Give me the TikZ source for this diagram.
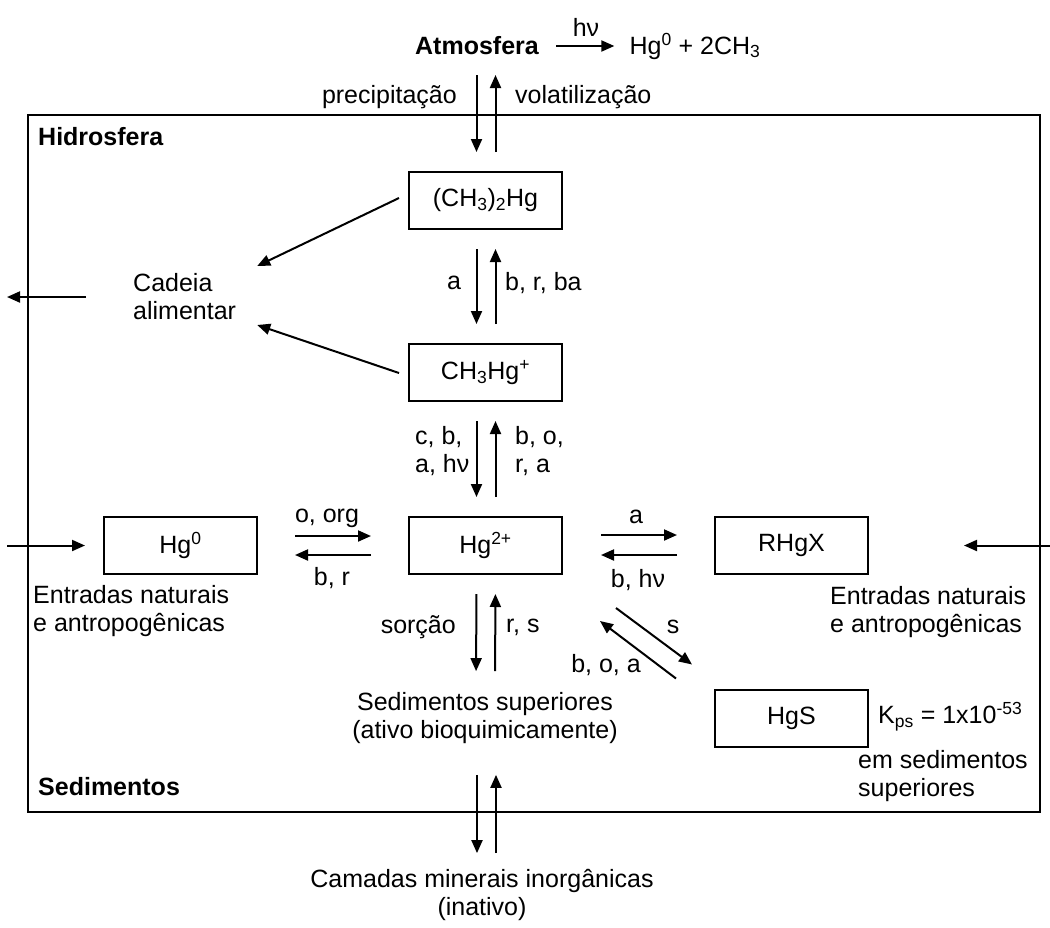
\documentclass[tikz,border=0pt]{standalone}
\usepackage{fontspec}
\setmainfont{Liberation Sans}
\usetikzlibrary{arrows.meta}

\begin{document}
\begin{tikzpicture}[x=1pt,y=-1pt]

	\tikzset{every node/.style={font=\fontsize{25}{28}\selectfont,inner sep=0pt}}
	\tikzset{species/.style={draw,line width=2pt,minimum width=153pt,minimum height=57pt}}
	\tikzset{flux/.style={line width=2pt,-{Triangle[length=13pt,width=11pt]}}}
	\tikzset{zone/.style={font=\fontsize{25}{28}\selectfont\bfseries}}

	\useasboundingbox (0,0) rectangle (1050,927);

	% compartments

	\draw[line width=2pt] (28,115) rectangle (1040,812);
	\node[zone,anchor=west] (hidro) at (38,137) {Hidrosfera};
	\node[zone,anchor=west] (sed) at (38,787) {Sedimentos};
	\node[zone] (atm) at (477,46) {Atmosfera};
	\node (prod) at (695,46) {Hg\textsuperscript{0} + 2CH\textsubscript{3}};
	\draw[flux,shorten <=17pt,shorten >=15pt] (atm.east) -- (prod.west);
	\node (hnu) at (586,27) {hν};

	% mercury species

	\node[species] (me2) at (485.5,200.5) {(CH\textsubscript{3})\textsubscript{2}Hg};
	\node[species] (mehg) at (485.5,372.5) {CH\textsubscript{3}Hg\textsuperscript{+}};
	\node[species] (hg2) at (485.5,545.5) {Hg\textsuperscript{2+}};
	\node[species] (hg0) at (180.5,545.5) {Hg\textsuperscript{0}};
	\node[species] (rhgx) at (791.5,545.5) {RHgX};
	\node[species] (hgs) at (791.5,718) {HgS};

	\node[anchor=west,align=left] (food) at (133,297) {Cadeia\\alimentar};
	\node[align=center] (sedsup) at (485,718) {Sedimentos superiores\\(ativo bioquimicamente)};
	\node[align=center] (camadas) at (482,895) {Camadas minerais inorgânicas\\(inativo)};
	\node[anchor=west,align=left] (entL) at (33,611) {Entradas naturais\\e antropogênicas};
	\node[anchor=west,align=left] (entR) at (830,612) {Entradas naturais\\e antropogênicas};
	\node[anchor=west] (kps) at (878,717) {K\textsubscript{ps} = 1x10\textsuperscript{-53}};
	\node[anchor=west,align=left] (emsed) at (858,776) {em sedimentos\\superiores};

	% vertical exchanges

	\coordinate (surf) at (485.5,75);
	\draw[flux,shorten >=19pt] ([xshift=-9pt]surf) -- ([xshift=-9pt]me2.north);
	\draw[flux,shorten <=19pt] ([xshift=10pt]me2.north) -- ([xshift=10pt]surf);
	\node[anchor=east] (precip) at (457,97) {precipitação};
	\node[anchor=west] (volat) at (515,97) {volatilização};

	\foreach \a/\b in {me2/mehg,mehg/hg2} {
		\draw[flux,shorten <=19pt,shorten >=19pt] ([xshift=-9pt]\a.south) -- ([xshift=-9pt]\b.north);
		\draw[flux,shorten <=19pt,shorten >=19pt] ([xshift=10pt]\b.north) -- ([xshift=10pt]\a.south);
	}
	\node (l1) at (454,283) {a};
	\node[anchor=west] (l2) at (505,283) {b, r, ba};
	\node[anchor=west,align=left] (l3) at (415,451) {c, b,\\a, hν};
	\node[anchor=west,align=left] (l4) at (515,451) {b, o,\\r, a};

	\draw[flux,shorten <=19pt,shorten >=21pt] ([xshift=-9pt]hg2.south) -- ([xshift=-9pt]sedsup.north);
	\draw[flux,shorten <=21pt,shorten >=19pt] ([xshift=10pt]sedsup.north) -- ([xshift=10pt]hg2.south);
	\node[anchor=east] (sorc) at (456,627) {sorção};
	\node[anchor=west] (rs) at (506,627) {r, s};

	\draw[flux,shorten <=31pt,shorten >=16pt] ([xshift=-8pt]sedsup.south) -- ([xshift=-5pt]camadas.north);
	\draw[flux,shorten <=16pt,shorten >=31pt] ([xshift=14pt]camadas.north) -- ([xshift=11pt]sedsup.south);

	% horizontal exchanges

	\draw[flux,shorten <=37pt,shorten >=37pt] ([yshift=9.5pt]hg0.east) -- ([yshift=9.5pt]hg2.west);
	\draw[flux,shorten <=37pt,shorten >=37pt] ([yshift=-9.5pt]hg2.west) -- ([yshift=-9.5pt]hg0.east);
	\node (l5) at (327,518) {o, org};
	\node (l6) at (332,578) {b, r};

	\draw[flux,shorten <=38pt,shorten >=37pt] ([yshift=10.5pt]hg2.east) -- ([yshift=10.5pt]rhgx.west);
	\draw[flux,shorten <=37pt,shorten >=38pt] ([yshift=-9.5pt]rhgx.west) -- ([yshift=-9.5pt]hg2.east);
	\node (l7) at (636,517) {a};
	\node (l8) at (638,580) {b, hν};

	\draw[flux] ([shift={(53,33)}]hg2.south east) -- ([shift={(-22,-24)}]hgs.north west);
	\draw[flux] ([shift={(-38,-10)}]hgs.north west) -- ([shift={(37,46)}]hg2.south east);
	\node (l9) at (673,627) {s};
	\node (l10) at (606,665) {b, o, a};

	% food chain and inputs

	\draw[flux] ([shift={(-9,-2.5)}]me2.west) -- ([shift={(21,-31)}]food.east);
	\draw[flux] ([shift={(-9,0.5)}]mehg.west) -- ([shift={(21,28)}]food.east);
	\coordinate (outL) at (7,297);
	\draw[flux,shorten <=47pt] (food.west) -- (outL);

	\coordinate (inL) at (7,545.5);
	\draw[flux,shorten >=18pt] (inL) -- (hg0.west);
	\coordinate (inR) at (1050,545.5);
	\draw[flux,shorten >=95pt] (inR) -- (rhgx.east);

\end{tikzpicture}
\end{document}
